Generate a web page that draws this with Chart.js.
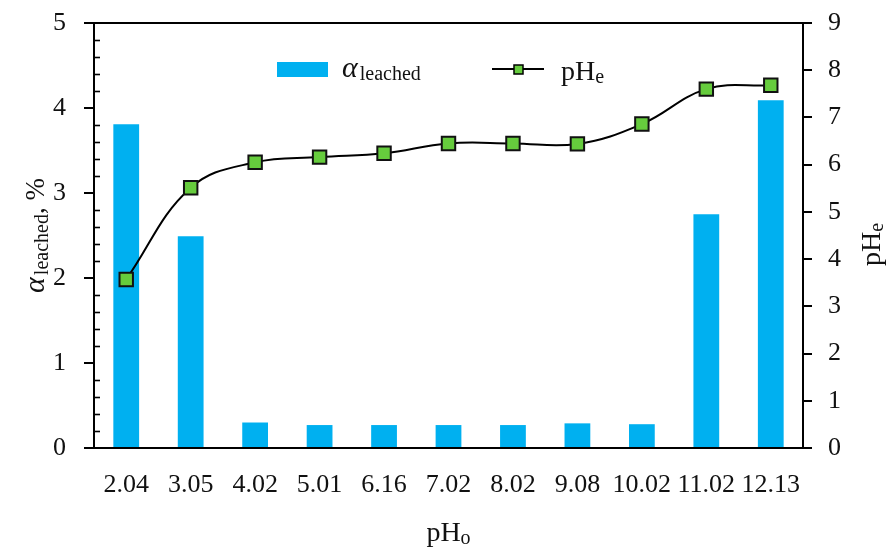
<!DOCTYPE html>
<html>
<head>
<meta charset="utf-8">
<script src="https://cdn.jsdelivr.net/npm/chart.js@4.4.1/dist/chart.umd.min.js"></script>
<style>
  html, body { margin: 0; padding: 0; background: #fff; }
  #wrap { width: 889px; height: 548px; }
</style>
</head>
<body>
<div id="wrap"><canvas id="myChart" width="889" height="548"></canvas></div>
<script>
// initial pH (x categories)
const phInitial = ['2.04', '3.05', '4.02', '5.01', '6.16', '7.02', '8.02', '9.08', '10.02', '11.02', '12.13'];
// leached fraction, % (left axis)
const alphaLeached = [3.81, 2.49, 0.30, 0.27, 0.27, 0.27, 0.27, 0.29, 0.28, 2.75, 4.09];
// equilibrium pH (right axis)
const phEquil = [3.57, 5.51, 6.05, 6.16, 6.24, 6.45, 6.45, 6.44, 6.86, 7.60, 7.68];
const leftTicks = [0, 1, 2, 3, 4, 5];
const rightTicks = [0, 1, 2, 3, 4, 5, 6, 7, 8, 9];

const FONT = '"Liberation Serif", "DejaVu Serif", serif';
const BLUE = '#00B0F0';
const GREEN = '#66CC3D';

// draws text with a subscript part, returns end x
function drawSub(ctx, parts, x, y) {
  parts.forEach(p => {
    ctx.font = p.font;
    ctx.fillText(p.text, x, y + (p.dy || 0));
    x += ctx.measureText(p.text).width + (p.gap || 0);
  });
  return x;
}
function partsWidth(ctx, parts) {
  let w = 0;
  parts.forEach(p => { ctx.font = p.font; w += ctx.measureText(p.text).width + (p.gap || 0); });
  return w;
}

const decorations = {
  id: 'decorations',
  afterDraw(chart) {
    const ctx = chart.ctx;
    const area = chart.chartArea;
    const y = chart.scales.y;
    ctx.save();
    ctx.strokeStyle = '#000';
    ctx.lineWidth = 2;
    // top frame line
    ctx.beginPath();
    ctx.moveTo(area.left, area.top);
    ctx.lineTo(area.right, area.top);
    ctx.stroke();
    // minor ticks on the left axis, pointing inward
    ctx.lineWidth = 1.6;
    for (let i = 1; i < 25; i++) {
      if (i % 5 === 0) continue;
      const py = Math.round(y.getPixelForValue(i * 0.2)) + 0.5;
      ctx.beginPath();
      ctx.moveTo(area.left, py);
      ctx.lineTo(area.left + 6, py);
      ctx.stroke();
    }

    ctx.fillStyle = '#111';
    ctx.textBaseline = 'alphabetic';
    ctx.textAlign = 'left';

    // legend
    ctx.fillStyle = BLUE;
    ctx.fillRect(277, 62, 51, 15);
    ctx.fillStyle = '#111';
    drawSub(ctx, [
      { text: 'α', font: 'italic 30px ' + FONT, gap: 2 },
      { text: 'leached', font: '20px ' + FONT, dy: 3 }
    ], 342, 77);

    ctx.strokeStyle = '#000';
    ctx.lineWidth = 2;
    ctx.beginPath();
    ctx.moveTo(492, 69);
    ctx.lineTo(544, 69);
    ctx.stroke();
    ctx.fillStyle = GREEN;
    ctx.lineWidth = 1.5;
    ctx.fillRect(514, 65, 9, 9);
    ctx.strokeRect(514, 65, 9, 9);
    ctx.fillStyle = '#111';
    drawSub(ctx, [
      { text: 'pH', font: '28px ' + FONT },
      { text: 'e', font: '20px ' + FONT, dy: 3 }
    ], 561, 80);

    // x axis title
    const xt = [
      { text: 'pH', font: '28px ' + FONT },
      { text: 'o', font: '20px ' + FONT, dy: 3 }
    ];
    drawSub(ctx, xt, (area.left + area.right) / 2 - partsWidth(ctx, xt) / 2, 541);

    // left axis title
    const lt = [
      { text: 'α', font: 'italic 30px ' + FONT, gap: 2 },
      { text: 'leached', font: '20px ' + FONT, dy: 4 },
      { text: ', %', font: '27px ' + FONT }
    ];
    ctx.save();
    ctx.translate(44, (area.top + area.bottom) / 2);
    ctx.rotate(-Math.PI / 2);
    drawSub(ctx, lt, -partsWidth(ctx, lt) / 2, 0);
    ctx.restore();

    // right axis title
    const rt = [
      { text: 'pH', font: '28px ' + FONT },
      { text: 'e', font: '20px ' + FONT, dy: 3 }
    ];
    ctx.save();
    ctx.translate(880, (area.top + area.bottom) / 2 + 9);
    ctx.rotate(-Math.PI / 2);
    drawSub(ctx, rt, -partsWidth(ctx, rt) / 2, 0);
    ctx.restore();

    ctx.restore();
  }
};

const tickFont = { family: FONT, size: 26 };

new Chart(document.getElementById('myChart'), {
  data: {
    labels: phInitial,
    datasets: [
      {
        type: 'line',
        label: 'pHe',
        data: phEquil,
        yAxisID: 'y1',
        order: 0,
        borderColor: '#000',
        borderWidth: 2,
        tension: 0.4,
        pointStyle: 'rect',
        pointRadius: 9.5,
        pointBackgroundColor: GREEN,
        pointBorderColor: '#111',
        pointBorderWidth: 2
      },
      {
        type: 'bar',
        label: 'αleached',
        data: alphaLeached,
        yAxisID: 'y',
        order: 1,
        backgroundColor: BLUE,
        barPercentage: 0.4,
        categoryPercentage: 1.0
      }
    ]
  },
  options: {
    responsive: false,
    animation: false,
    layout: { padding: { top: 23, left: 0, right: 0, bottom: 0 } },
    plugins: { legend: { display: false }, tooltip: { enabled: false } },
    scales: {
      x: {
        type: 'category',
        offset: true,
        grid: { display: false },
        border: { display: true, color: '#000', width: 2 },
        ticks: { font: tickFont, color: '#111', padding: 14, maxRotation: 0, autoSkip: false },
        afterFit(scale) { scale.height = 100; scale.paddingLeft = 0; scale.paddingRight = 0; }
      },
      y: {
        position: 'left',
        min: 0,
        max: 5,
        afterBuildTicks(scale) { scale.ticks = leftTicks.map(v => ({ value: v })); },
        grid: { drawOnChartArea: false, color: '#000', lineWidth: 2, tickLength: 10 },
        border: { display: true, color: '#000', width: 2 },
        ticks: { font: tickFont, color: '#111', padding: 18 },
        afterFit(scale) { scale.width = 94; scale.paddingTop = 0; scale.paddingBottom = 0; }
      },
      y1: {
        position: 'right',
        min: 0,
        max: 9,
        afterBuildTicks(scale) { scale.ticks = rightTicks.map(v => ({ value: v })); },
        grid: { drawOnChartArea: false, color: '#000', lineWidth: 2, tickLength: 9 },
        border: { display: true, color: '#000', width: 2 },
        ticks: { font: tickFont, color: '#111', padding: 16 },
        afterFit(scale) { scale.width = 86; scale.paddingTop = 0; scale.paddingBottom = 0; }
      }
    }
  },
  plugins: [decorations]
});
</script>
</body>
</html>
